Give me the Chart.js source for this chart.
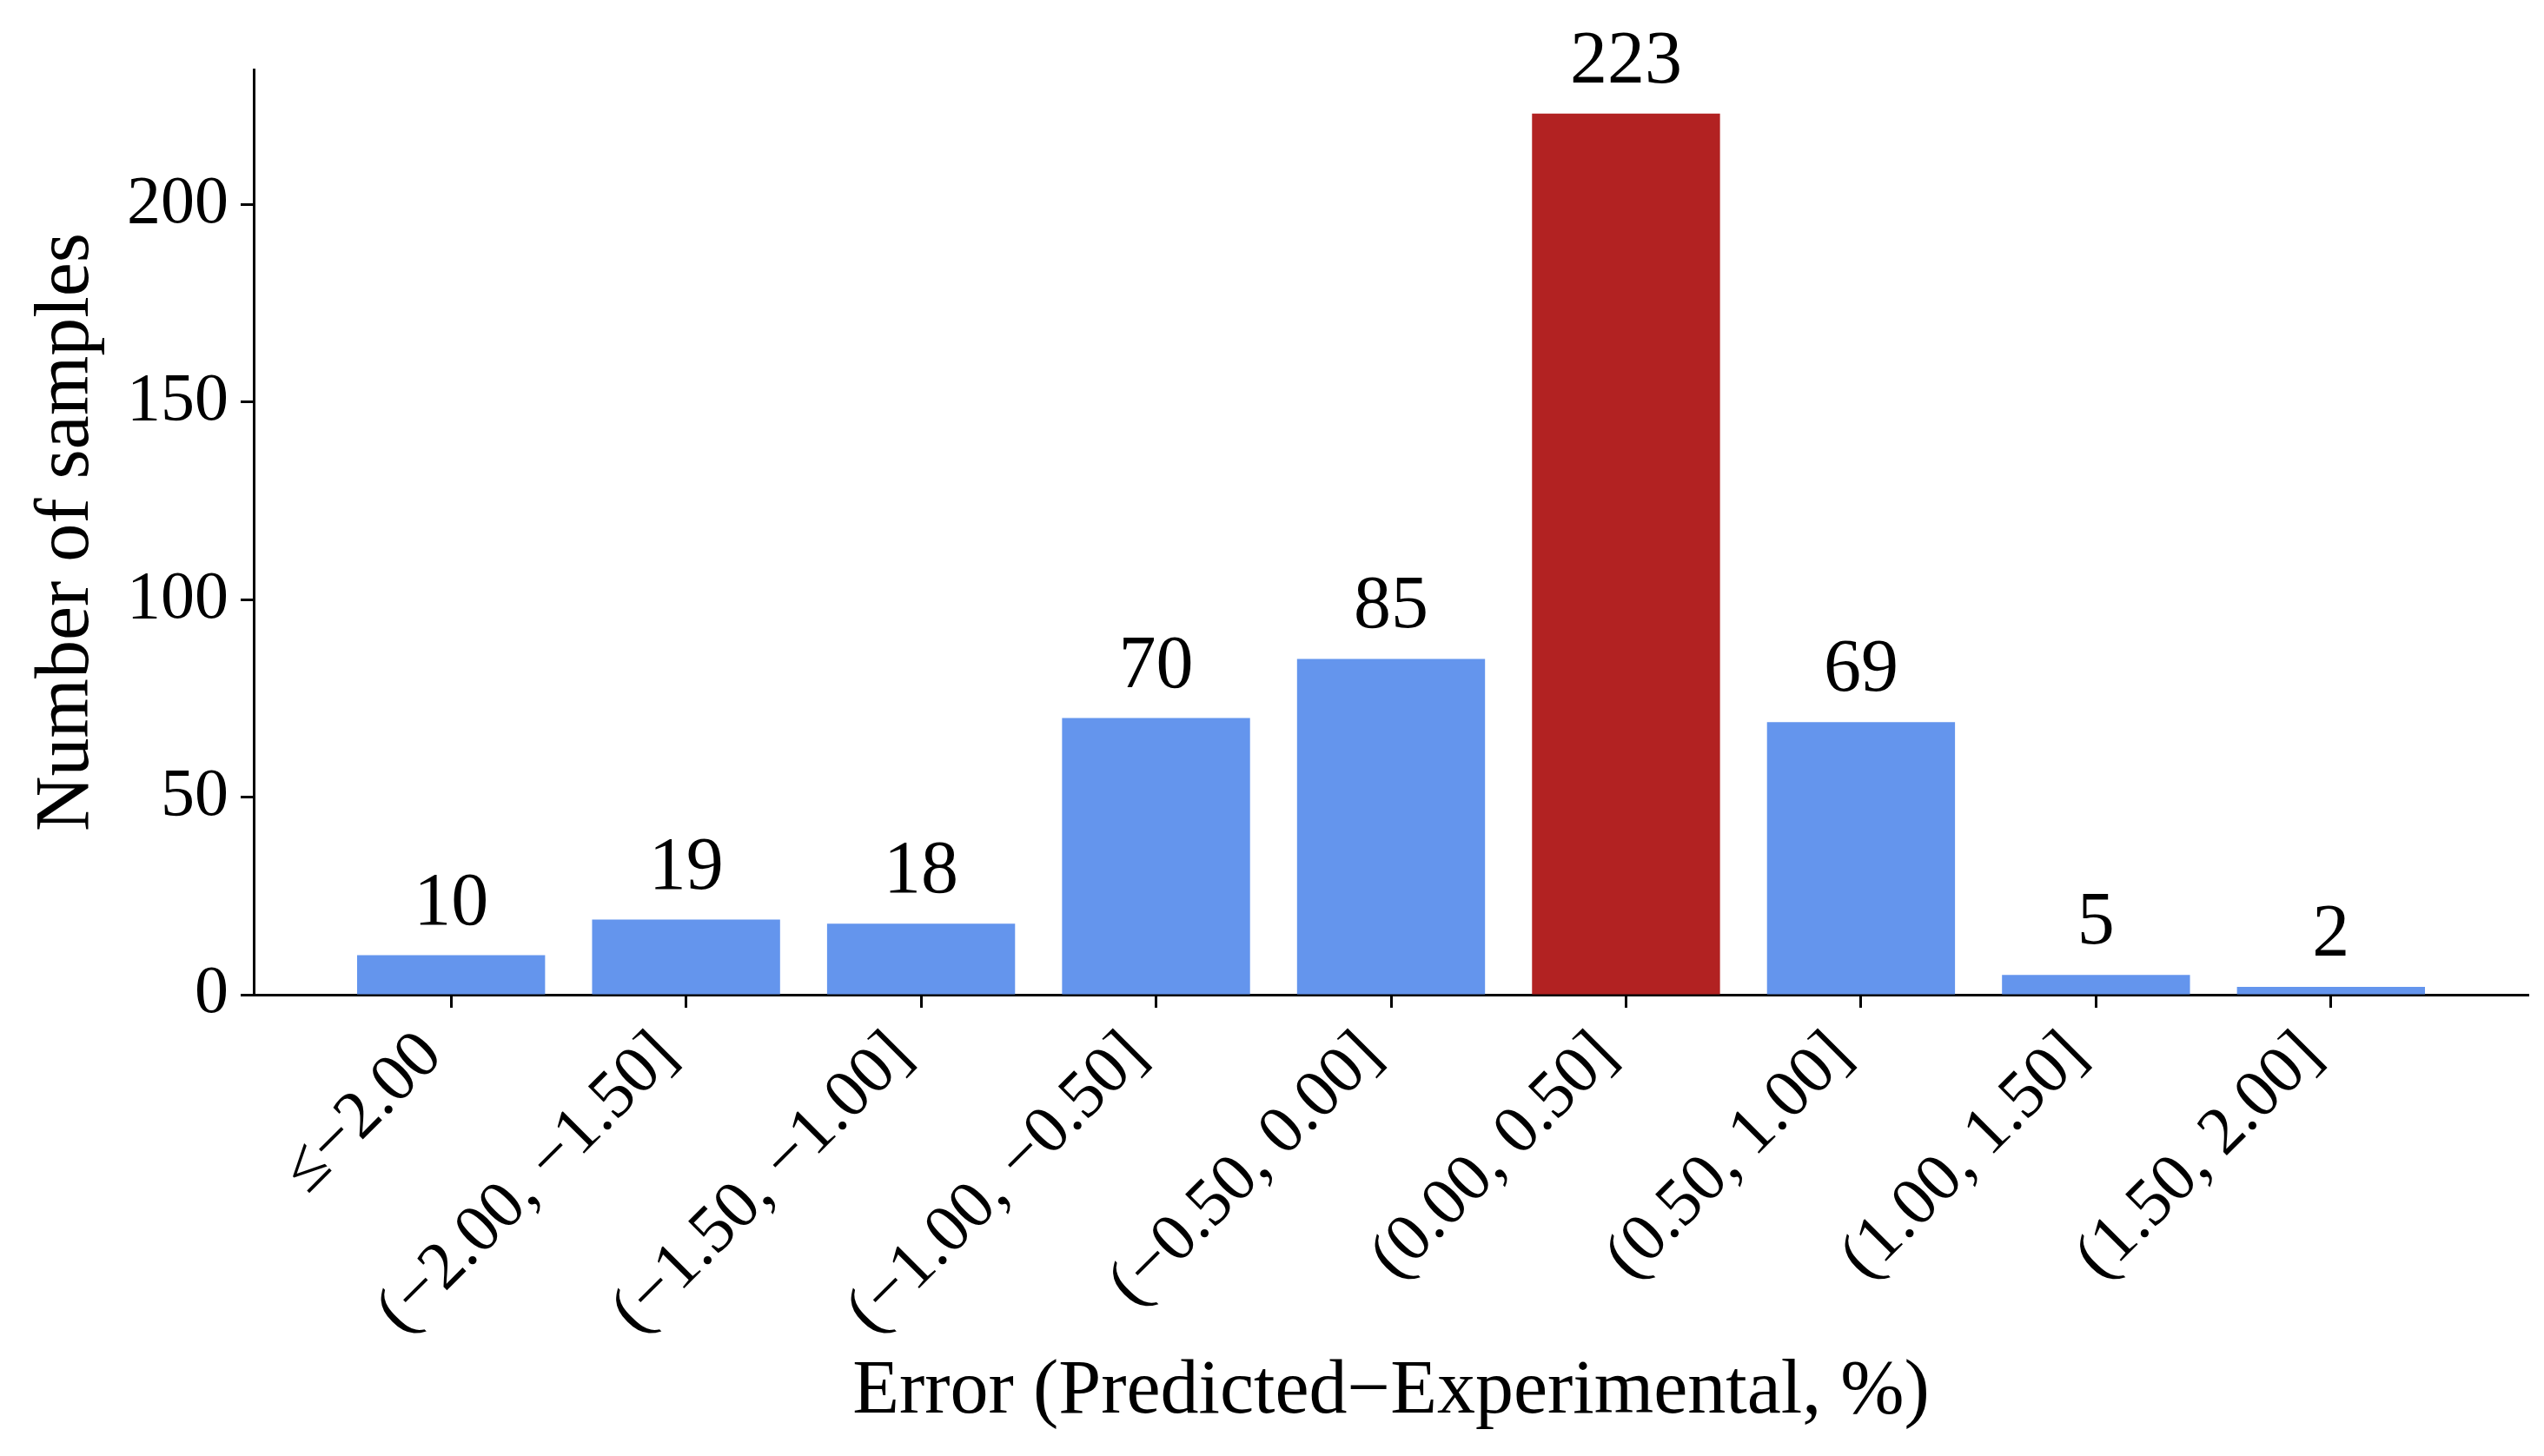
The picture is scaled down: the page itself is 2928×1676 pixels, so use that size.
<!DOCTYPE html>
<html>
<head>
<meta charset="utf-8">
<script src="https://cdn.jsdelivr.net/npm/chart.js@4.4.0/dist/chart.umd.min.js"></script>
<style>
  html, body { margin: 0; padding: 0; background: #ffffff; }
  #wrap { width: 2928px; height: 1676px; }
</style>
</head>
<body>
<div id="wrap"><canvas id="errorHist" width="2928" height="1676"></canvas></div>
<script>
// Error bins and sample counts
var binLabels = ['\u2264\u22122.00', '(\u22122.00, \u22121.50]', '(\u22121.50, \u22121.00]', '(\u22121.00, \u22120.50]',
  '(\u22120.50, 0.00]', '(0.00, 0.50]', '(0.50, 1.00]', '(1.00, 1.50]', '(1.50, 2.00]'];
var sampleCounts = [10, 19, 18, 70, 85, 223, 69, 5, 2];
var yTicks = [0, 50, 100, 150, 200];

var blue = '#6495ED';
var red = '#B22222';
var serif = '"Liberation Serif", "Times New Roman", serif';

// highlight the tallest bin
var maxCount = Math.max.apply(null, sampleCounts);
var barColors = sampleCounts.map(function (v) { return v === maxCount ? red : blue; });

// count labels above each bar
var valueLabels = {
  id: 'valueLabels',
  afterDatasetsDraw: function (chart) {
    var ctx = chart.ctx;
    var meta = chart.getDatasetMeta(0);
    ctx.save();
    ctx.font = '86px ' + serif;
    ctx.fillStyle = '#000';
    ctx.textAlign = 'center';
    ctx.textBaseline = 'alphabetic';
    meta.data.forEach(function (bar, i) {
      ctx.fillText(String(sampleCounts[i]), bar.x, bar.y - 36);
    });
    ctx.restore();
  }
};

var chart = new Chart(document.getElementById('errorHist'), {
  type: 'bar',
  data: {
    datasets: [{
      label: 'Number of samples',
      data: sampleCounts.map(function (v, i) { return { x: i, y: v }; }),
      backgroundColor: barColors,
      borderWidth: 0,
      categoryPercentage: 1.0,
      barPercentage: 0.8
    }]
  },
  options: {
    responsive: false,
    animation: false,
    layout: { padding: { top: 80, right: 18, left: 0, bottom: 0 } },
    plugins: {
      legend: { display: false },
      tooltip: { enabled: false }
    },
    scales: {
      x: {
        type: 'linear',
        min: -0.84,
        max: 8.84,
        offset: false,
        afterFit: function (scale) { scale.height = 1676 - 1145; },
        grid: { offset: false, drawOnChartArea: false, drawTicks: true, tickLength: 15, tickWidth: 3, color: '#000' },
        border: { display: true, width: 3, color: '#000' },
        ticks: {
          stepSize: 1,
          includeBounds: false,
          autoSkip: false,
          maxRotation: 45,
          minRotation: 45,
          padding: 10,
          labelOffset: -22,
          color: '#000',
          font: { family: serif, size: 78 },
          callback: function (value) {
            return Number.isInteger(value) && binLabels[value] !== undefined ? binLabels[value] : '';
          }
        },
        title: {
          display: true,
          text: 'Error (Predicted\u2212Experimental, %)',
          color: '#000',
          font: { family: serif, size: 88 },
          padding: 20
        }
      },
      y: {
        min: 0,
        max: maxCount * 1.05,
        afterFit: function (scale) { scale.width = 292; },
        afterBuildTicks: function (scale) {
          scale.ticks = yTicks.map(function (v) { return { value: v }; });
        },
        grid: { drawOnChartArea: false, drawTicks: true, tickLength: 15, tickWidth: 3, color: '#000' },
        border: { display: true, width: 3, color: '#000' },
        ticks: {
          padding: 14,
          color: '#000',
          font: { family: serif, size: 78 }
        },
        title: {
          display: true,
          text: 'Number of samples',
          color: '#000',
          font: { family: serif, size: 88 },
          padding: 25
        }
      }
    }
  },
  plugins: [valueLabels]
});
</script>
</body>
</html>
